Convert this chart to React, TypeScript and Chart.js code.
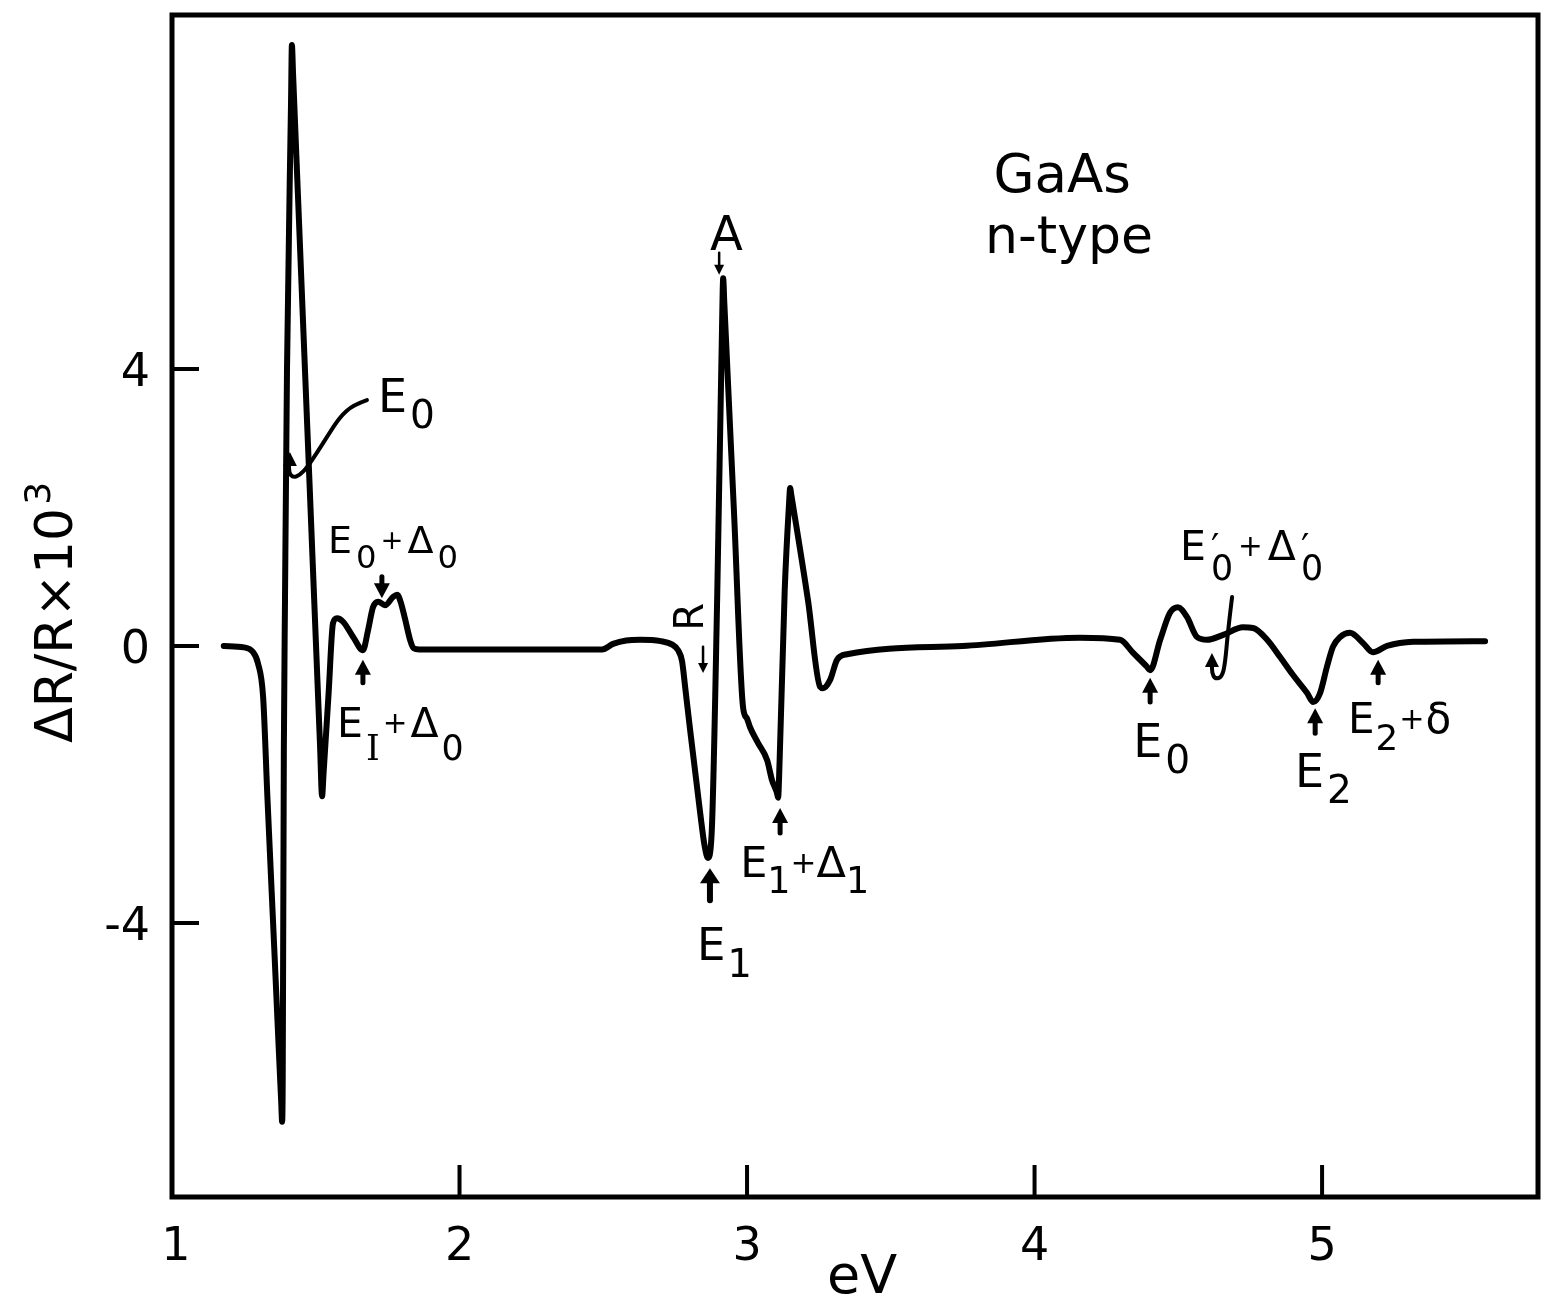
import { useEffect, useRef } from 'react';
import { Chart, registerables } from 'chart.js';

Chart.register(...registerables);

// Electroreflectance spectrum of n-type GaAs, ΔR/R in units of 10^-3 versus photon energy.
// Fundamental edge region (E0, E0+Δ0)
const edgeEnergy = [
  1.18, 1.25, 1.28, 1.299, 1.317, 1.332, 1.356, 1.37, 1.38, 1.383, 1.385, 1.389, 1.393, 1.4,
  1.414, 1.417, 1.421, 1.47, 1.515, 1.522, 1.527, 1.545, 1.56, 1.574, 1.595, 1.63, 1.664,
  1.682, 1.699, 1.717, 1.741, 1.769, 1.783, 1.795, 1.81, 1.828, 1.84, 1.86, 2.1,
];
const edgeSignal = [
  0.0, -0.02, -0.08, -0.25, -0.74, -2.2, -4.4, -5.7, -6.6, -6.87, -6.3, -1.5, 0.66, 4.0,
  7.85, 8.68, 8.27, 3.21, -1.45, -2.17, -1.85, -0.66, 0.33, 0.4, 0.35, 0.13, -0.06,
  0.23, 0.56, 0.64, 0.59, 0.71, 0.74, 0.64, 0.4, 0.09, -0.03, -0.05, -0.05,
];

// E1, E1+Δ1 region
const e1Energy = [
  2.42, 2.496, 2.534, 2.58, 2.628, 2.7, 2.74, 2.76, 2.774, 2.785, 2.802, 2.837, 2.853, 2.864,
  2.877, 2.896, 2.913, 2.917, 2.921, 2.955, 2.986, 3.0, 3.01, 3.038, 3.07, 3.087, 3.104,
  3.108, 3.113, 3.131, 3.146, 3.15, 3.154, 3.212, 3.254, 3.264, 3.289, 3.313, 3.348, 3.75,
];
const e1Signal = [
  -0.05, -0.05, 0.03, 0.08, 0.09, 0.07, 0.02, -0.06, -0.22, -0.6, -1.21, -2.41, -2.9, -3.06,
  -2.7, 0.66, 4.6, 5.31, 4.95, 1.9, -0.88, -1.05, -1.17, -1.4, -1.65, -1.94, -2.12,
  -2.19, -1.7, 0.8, 2.05, 2.28, 2.18, 0.66, -0.59, -0.61, -0.49, -0.2, -0.12, 0.0,
];

// Higher-energy region (E0', E0'+Δ0', E2, E2+δ)
const uvEnergy = [
  4.158, 4.297, 4.343, 4.391, 4.402, 4.437, 4.471, 4.499, 4.53, 4.565, 4.6, 4.656, 4.725,
  4.76, 4.809, 4.854, 4.899, 4.948, 4.969, 4.993, 5.017, 5.038, 5.063, 5.097, 5.143, 5.177,
  5.226, 5.317, 5.567,
];
const uvSignal = [
  0.12, 0.09, -0.1, -0.3, -0.35, 0.09, 0.48, 0.56, 0.42, 0.13, 0.09, 0.16, 0.27,
  0.26, 0.09, -0.16, -0.42, -0.68, -0.81, -0.68, -0.3, -0.01, 0.13, 0.19, 0.04, -0.09,
  0.0, 0.06, 0.07,
];

// Axes
const xLabelValues = [1, 2, 3, 4, 5];
const xTickLabels = ['1', '2', '3', '4', '5'];
const yTickValues = [-4, 0, 4];
const yTickLabels = ['-4', '0', '4'];
const xTitle = 'eV';
const yTitleMain = 'ΔR/R×10';
const yTitleExp = '3';
const sampleLines = ['GaAs', 'n-type'];

const X_MIN = 1;
const X_MAX = 5.751;
const Y_MIN = -7.957;
const Y_MAX = 9.112;

const W = 1554;
const H = 1306;
const AREA = { left: 172, top: 15, right: 1538, bottom: 1197 };
const FONT = '"DejaVu Sans", sans-serif';
const SERIF = '"DejaVu Serif", serif';
const INK = '#000';

type Part = [string, string, string?];
interface Label { x: number; y: number; size: number; gap: number; subDy: number; parts: Part[] }

// Transition labels (anchor: left edge / baseline, in data units)
const transitionLabels: Label[] = [
  { x: 1.7165, y: 3.379, size: 46, gap: 3, subDy: 0.35, parts: [['E', 'n'], ['0', 's']] },
  { x: 1.5426, y: 1.343, size: 38, gap: 4, subDy: 0.4, parts: [['E', 'n'], ['0', 's'], ['+', 'o'], ['Δ', 'n'], ['0', 's']] },
  { x: 1.574, y: -1.314, size: 41, gap: 3, subDy: 0.55, parts: [['E', 'n'], ['I', 's', SERIF], ['+', 'o'], ['Δ', 'n'], ['0', 's']] },
  { x: 2.871, y: 5.718, size: 48, gap: 0, subDy: 0, parts: [['A', 'n']] },
  { x: 2.826, y: -4.534, size: 45, gap: 2, subDy: 0.38, parts: [['E', 'n'], ['1', 's']] },
  { x: 2.976, y: -3.336, size: 43, gap: 0, subDy: 0.37, parts: [['E', 'n'], ['1', 's'], ['+', 'o'], ['Δ', 'n'], ['1', 's']] },
  { x: 4.343, y: -1.603, size: 46, gap: 3, subDy: 0.35, parts: [['E', 'n'], ['0', 's']] },
  { x: 4.506, y: 1.242, size: 41, gap: 5, subDy: 0.49, parts: [['E', 'n'], ['′', 'p'], ['0', 's'], ['+', 'o'], ['Δ', 'n'], ['′', 'p'], ['0', 's']] },
  { x: 4.906, y: -2.036, size: 46, gap: 3, subDy: 0.35, parts: [['E', 'n'], ['2', 's']] },
  { x: 5.09, y: -1.256, size: 42, gap: 1, subDy: 0.4, parts: [['E', 'n'], ['2', 's'], ['+', 'o'], ['δ', 'n']] },
];

// Marker arrows: x, tail value, tip value, shaft width
const markerArrows = [
  { x: 1.664, from: -0.53, to: -0.2, w: 5 },
  { x: 1.73, from: 1.0, to: 0.69, w: 5 },
  { x: 2.903, from: 5.68, to: 5.36, w: 2.5 },
  { x: 2.847, from: -0.01, to: -0.39, w: 2.5 },
  { x: 2.871, from: -3.67, to: -3.21, w: 6 },
  { x: 3.115, from: -2.7, to: -2.34, w: 5 },
  { x: 4.402, from: -0.81, to: -0.46, w: 5 },
  { x: 4.976, from: -1.26, to: -0.9, w: 5 },
  { x: 5.195, from: -0.53, to: -0.2, w: 5 },
];

// Curved leaders ending in an upward arrowhead
const leaders = [
  {
    path: [[1.678, 3.55], [1.63, 3.48], [1.584, 3.31], [1.539, 3.02], [1.504, 2.79], [1.47, 2.58],
      [1.445, 2.47], [1.421, 2.43], [1.407, 2.5], [1.407, 2.64]],
    tip: [1.41, 2.8],
  },
  {
    path: [[4.687, 0.708], [4.673, 0.231], [4.663, -0.245], [4.652, -0.448], [4.628, -0.477],
      [4.617, -0.39], [4.617, -0.245]],
    tip: [4.617, -0.1],
  },
];

const rLabel = { x: 2.812, y: 0.419, size: 40, text: 'R' };
const sampleAnchor = [{ x: 4.096, y: 6.556, size: 53 }, { x: 4.12, y: 5.675, size: 52 }];

const spectrum = [
  ...edgeEnergy.map((e, i) => ({ x: e, y: edgeSignal[i] })),
  ...e1Energy.map((e, i) => ({ x: e, y: e1Signal[i] })),
  ...uvEnergy.map((e, i) => ({ x: e, y: uvSignal[i] })),
];

function drawParts(ctx: CanvasRenderingContext2D, px: number, py: number, lab: Label) {
  let cx = px;
  for (const [t, k, fam] of lab.parts) {
    let s = lab.size;
    let dy = 0;
    let adv = true;
    if (k === 's') { s = lab.size * 0.85; dy = lab.size * lab.subDy; }
    else if (k === 'p') { s = lab.size * 0.9; adv = false; }
    else if (k === 'o') { s = lab.size * 0.72; dy = -lab.size * 0.1; }
    ctx.font = `${s}px ${fam ?? FONT}`;
    ctx.fillText(t, cx, py + dy);
    if (adv) cx += ctx.measureText(t).width + lab.gap;
  }
}

function arrowHead(ctx: CanvasRenderingContext2D, x: number, tipY: number, dir: number, len: number, half: number) {
  ctx.beginPath();
  ctx.moveTo(x, tipY);
  ctx.lineTo(x - half, tipY - dir * len);
  ctx.lineTo(x + half, tipY - dir * len);
  ctx.closePath();
  ctx.fill();
}

const decor = {
  id: 'figureDecor',
  beforeDraw(chart: any) {
    const { ctx, width, height } = chart;
    ctx.save();
    ctx.fillStyle = '#fff';
    ctx.fillRect(0, 0, width, height);
    ctx.restore();
  },
  beforeDatasetsDraw(chart: any) {
    const { ctx, chartArea: a, scales } = chart;
    const xs = scales.x;
    const ys = scales.y;
    ctx.save();
    ctx.strokeStyle = INK;
    ctx.fillStyle = INK;

    // frame
    ctx.lineWidth = 5;
    ctx.lineJoin = 'miter';
    ctx.strokeRect(a.left, a.top, a.right - a.left, a.bottom - a.top);

    // inward ticks
    ctx.lineWidth = 4;
    ctx.lineCap = 'butt';
    xLabelValues.filter((v) => v > X_MIN).forEach((v) => {
      const px = xs.getPixelForValue(v);
      ctx.beginPath();
      ctx.moveTo(px, a.bottom);
      ctx.lineTo(px, a.bottom - 32);
      ctx.stroke();
    });
    yTickValues.forEach((v) => {
      const py = ys.getPixelForValue(v);
      ctx.beginPath();
      ctx.moveTo(a.left, py);
      ctx.lineTo(a.left + 27, py);
      ctx.stroke();
    });

    // tick labels
    ctx.font = `46px ${FONT}`;
    ctx.textBaseline = 'alphabetic';
    ctx.textAlign = 'center';
    xLabelValues.forEach((v, i) => {
      const px = xs.getPixelForValue(v) + (v === X_MIN ? 4 : 0);
      ctx.fillText(xTickLabels[i], px, a.bottom + 63);
    });
    ctx.textAlign = 'right';
    yTickValues.forEach((v, i) => {
      ctx.fillText(yTickLabels[i], a.left - 22, ys.getPixelForValue(v) + 17);
    });

    // axis titles
    ctx.textAlign = 'center';
    ctx.font = `54px ${FONT}`;
    ctx.fillText(xTitle, xs.getPixelForValue(3.4), a.bottom + 96);

    ctx.save();
    ctx.translate(a.left - 100, ys.getPixelForValue(-1.4));
    ctx.rotate(-Math.PI / 2);
    ctx.textAlign = 'left';
    ctx.font = `52px ${FONT}`;
    ctx.fillText(yTitleMain, 0, 0);
    const w = ctx.measureText(yTitleMain).width;
    ctx.font = `36px ${FONT}`;
    ctx.fillText(yTitleExp, w + 3, -22);
    ctx.restore();

    ctx.restore();
  },
  afterDatasetsDraw(chart: any) {
    const { ctx, scales } = chart;
    const xs = scales.x;
    const ys = scales.y;
    const P = (x: number, y: number) => [xs.getPixelForValue(x), ys.getPixelForValue(y)];
    ctx.save();
    ctx.strokeStyle = INK;
    ctx.fillStyle = INK;
    ctx.textBaseline = 'alphabetic';

    // sample description
    ctx.textAlign = 'center';
    sampleLines.forEach((t, i) => {
      const s = sampleAnchor[i];
      ctx.font = `${s.size}px ${FONT}`;
      const [px, py] = P(s.x, s.y);
      ctx.fillText(t, px, py);
    });
    ctx.textAlign = 'left';

    // transition labels
    transitionLabels.forEach((lab) => {
      const [px, py] = P(lab.x, lab.y);
      drawParts(ctx, px, py, lab);
    });

    // rotated R
    {
      const [px, py] = P(rLabel.x, rLabel.y);
      ctx.save();
      ctx.translate(px, py);
      ctx.rotate(-Math.PI / 2);
      ctx.textAlign = 'center';
      ctx.textBaseline = 'middle';
      ctx.font = `${rLabel.size}px ${FONT}`;
      ctx.fillText(rLabel.text, 0, 0);
      ctx.restore();
    }

    // marker arrows
    ctx.lineCap = 'round';
    markerArrows.forEach((ar) => {
      const [px, y0] = P(ar.x, ar.from);
      const [, y1] = P(ar.x, ar.to);
      const dir = Math.sign(y1 - y0);
      const thin = ar.w < 3;
      const len = thin ? 10 : 15;
      const half = thin ? 5 : ar.w > 5 ? 10 : 8;
      ctx.lineWidth = ar.w;
      ctx.beginPath();
      ctx.moveTo(px, y0);
      ctx.lineTo(px, y1 - dir * len * 0.7);
      ctx.stroke();
      arrowHead(ctx, px, y1, dir, len, half);
    });

    // curved leaders
    ctx.lineWidth = 4;
    ctx.lineJoin = 'round';
    leaders.forEach((ld) => {
      const pts = ld.path.map(([x, y]) => P(x, y));
      ctx.beginPath();
      ctx.moveTo(pts[0][0], pts[0][1]);
      for (let i = 1; i < pts.length - 1; i++) {
        const mx = (pts[i][0] + pts[i + 1][0]) / 2;
        const my = (pts[i][1] + pts[i + 1][1]) / 2;
        ctx.quadraticCurveTo(pts[i][0], pts[i][1], mx, my);
      }
      const last = pts[pts.length - 1];
      ctx.lineTo(last[0], last[1]);
      ctx.stroke();
      const [tx, ty] = P(ld.tip[0], ld.tip[1]);
      arrowHead(ctx, tx, ty, -1, 14, 7);
    });

    ctx.restore();
  },
};

export default function App() {
  const canvasRef = useRef<HTMLCanvasElement | null>(null);

  useEffect(() => {
    document.body.style.margin = '0';
    const canvas = canvasRef.current;
    if (!canvas) return;
    const chart = new Chart(canvas, {
      type: 'line',
      data: {
        datasets: [
          {
            data: spectrum,
            borderColor: INK,
            borderWidth: 6,
            pointRadius: 0,
            fill: false,
            cubicInterpolationMode: 'monotone',
            borderJoinStyle: 'round',
            borderCapStyle: 'round',
          },
        ],
      },
      options: {
        responsive: false,
        animation: false,
        devicePixelRatio: 1,
        events: [],
        layout: {
          padding: { left: AREA.left, top: AREA.top, right: W - AREA.right, bottom: H - AREA.bottom },
        },
        plugins: { legend: { display: false }, tooltip: { enabled: false } },
        scales: {
          x: { type: 'linear', min: X_MIN, max: X_MAX, display: false },
          y: { type: 'linear', min: Y_MIN, max: Y_MAX, display: false },
        },
      },
      plugins: [decor],
    } as any);
    return () => chart.destroy();
  }, []);

  return (
    <div style={{ position: 'absolute', left: 0, top: 0, width: W, height: H }}>
      <canvas ref={canvasRef} width={W} height={H} style={{ display: 'block' }} />
    </div>
  );
}
